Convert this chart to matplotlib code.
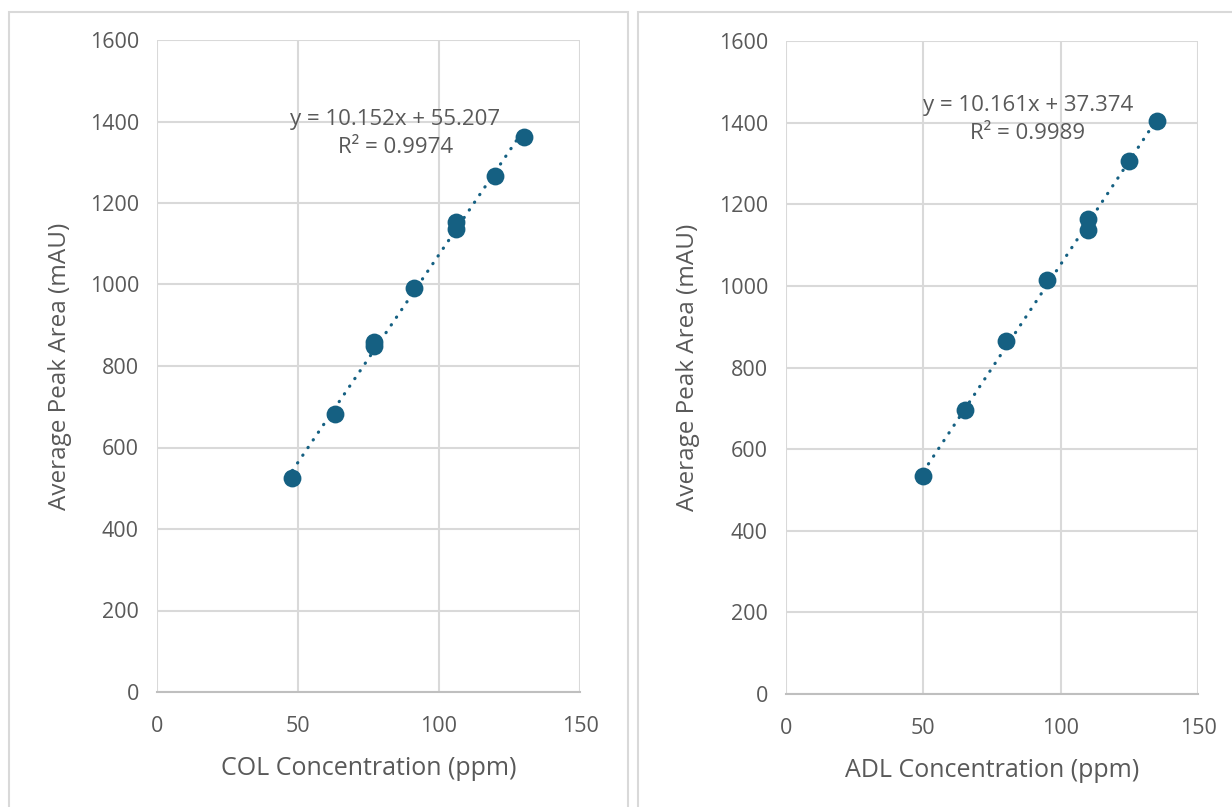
import numpy as np
import matplotlib
matplotlib.use('Agg')
import matplotlib.pyplot as plt
import matplotlib.patches as patches

plt.rcParams['font.family'] = ['Open Sans', 'DejaVu Sans']

# COL calibration
col_conc = [48, 63, 77, 77, 91, 106, 106, 120, 130]
col_area = [525, 683, 849, 859, 992, 1136, 1153, 1266, 1361]
col_eq = 'y = 10.152x + 55.207\nR² = 0.9974'

# ADL calibration
adl_conc = [50, 65, 80, 95, 110, 110, 125, 135]
adl_area = [534, 695, 864, 1014, 1137, 1163, 1306, 1403]
adl_eq = 'y = 10.161x + 37.374\nR² = 0.9989'

x_ticks = [0, 50, 100, 150]
y_ticks = [0, 200, 400, 600, 800, 1000, 1200, 1400, 1600]

blue = '#156082'
text_grey = '#595959'
grid_grey = '#d9d9d9'

W, H = 1232, 807
fig = plt.figure(figsize=(W / 100, H / 100), dpi=100)

# chart boxes like the excel frames
for x0, x1 in [(9, 628), (638, 1240)]:
    rect = patches.Rectangle((x0 / W, -0.05), (x1 - x0) / W, 1 - 12 / H + 0.05,
                             transform=fig.transFigure, linewidth=1.5,
                             edgecolor='#d9d9d9', facecolor='none')
    fig.patches.append(rect)


def draw(ax, conc, area, xlabel, eq, eq_pos, ylab_x):
    ax.set_xlim(0, 150)
    ax.set_ylim(0, 1600)
    ax.set_xticks(x_ticks)
    ax.set_yticks(y_ticks)
    ax.grid(True, color=grid_grey, linewidth=1.5)
    ax.set_axisbelow(True)
    for s in ['top', 'right', 'left']:
        ax.spines[s].set_visible(False)
    ax.spines['bottom'].set_color('#bfbfbf')
    ax.spines['bottom'].set_linewidth(1.5)
    ax.tick_params(length=0, labelsize=15.5, labelcolor=text_grey)
    ax.tick_params(axis='y', pad=13)
    ax.tick_params(axis='x', pad=17)

    m, b = np.polyfit(conc, area, 1)
    xs = np.array([min(conc), max(conc)])
    ax.plot(xs, m * xs + b, color=blue, linewidth=2.3,
            linestyle=(0, (0.1, 2.8)), dash_capstyle='round', zorder=2)
    ax.scatter(conc, area, s=165, color=blue, zorder=3, linewidths=0)

    ax.set_xlabel(xlabel, fontsize=18, color=text_grey)
    ax.set_ylabel('Average Peak Area (mAU)', fontsize=17.5, color=text_grey)
    ax.xaxis.set_label_coords(0.5, -0.098)
    ax.yaxis.set_label_coords(ylab_x, 0.5)
    ax.text(eq_pos[0], eq_pos[1], eq, transform=ax.transAxes, ha='center',
            va='center', fontsize=16, color=text_grey, linespacing=1.45)


ax1 = fig.add_axes([157 / W, 1 - 692 / H, 423 / W, 652 / H])
draw(ax1, col_conc, area=col_area, xlabel='COL Concentration (ppm)',
     eq=col_eq, eq_pos=(0.563, 0.857), ylab_x=-0.20)

ax2 = fig.add_axes([786 / W, 1 - 694 / H, 412 / W, 653 / H])
draw(ax2, adl_conc, area=adl_area, xlabel='ADL Concentration (ppm)',
     eq=adl_eq, eq_pos=(0.587, 0.880), ylab_x=-0.209)

fig.savefig('out.png', dpi=100)
